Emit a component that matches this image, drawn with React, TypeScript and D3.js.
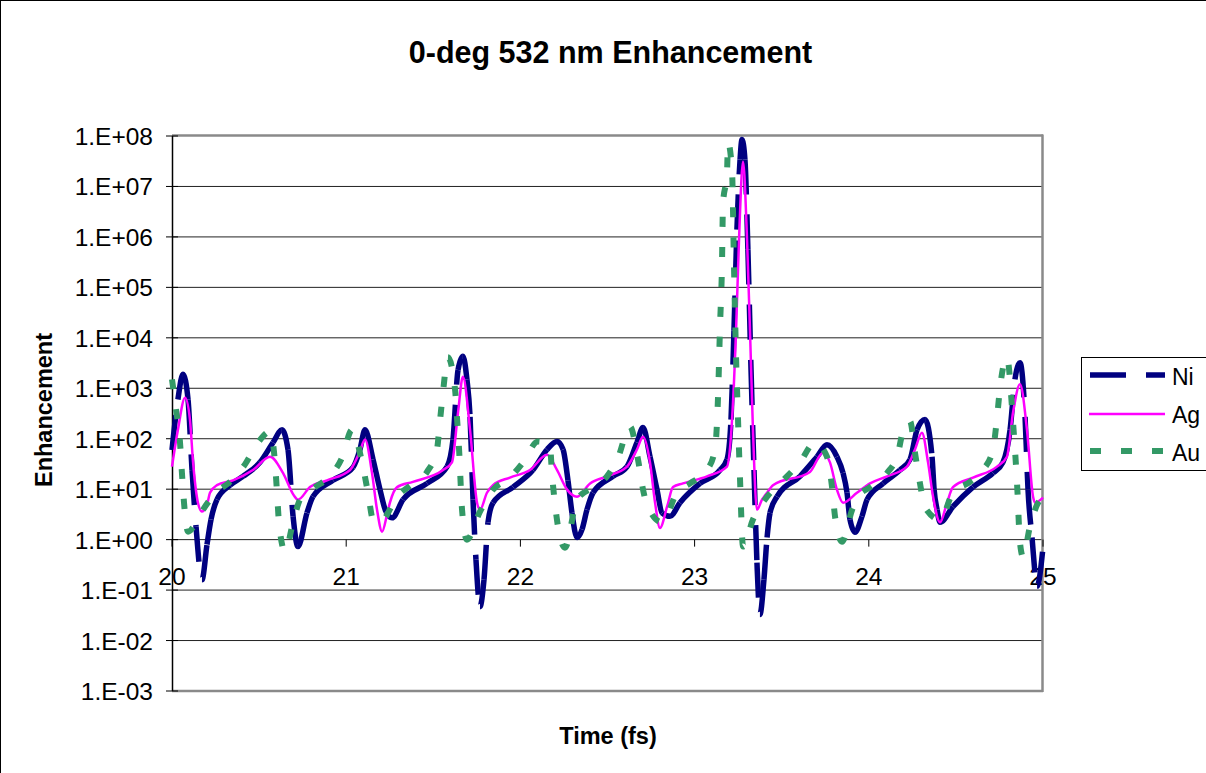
import React from 'react';
import * as d3 from 'd3';

const chartTitle = '0-deg 532 nm Enhancement';
const xAxisTitle = 'Time (fs)';
const yAxisTitle = 'Enhancement';
const seriesNames = ['Ni', 'Ag', 'Au'];
const xTicks = [20, 21, 22, 23, 24, 25];
const yTickValues = [1e-3, 1e-2, 1e-1, 1e0, 1e1, 1e2, 1e3, 1e4, 1e5, 1e6, 1e7, 1e8];
const yTickLabels = ['1.E-03', '1.E-02', '1.E-01', '1.E+00', '1.E+01', '1.E+02', '1.E+03', '1.E+04', '1.E+05', '1.E+06', '1.E+07', '1.E+08'];

const niTime = [20.000, 20.034, 20.063, 20.092, 20.115, 20.138, 20.172, 20.201, 20.224, 20.258, 20.333, 20.408, 20.505, 20.580, 20.631, 20.666, 20.695, 20.723, 20.775, 20.809, 20.924, 21.039, 21.079, 21.108, 21.154, 21.194, 21.228, 21.263, 21.326, 21.464, 21.579, 21.613, 21.642, 21.670, 21.693, 21.711, 21.728, 21.745, 21.768, 21.791, 21.814, 21.843, 21.958, 22.072, 22.153, 22.210, 22.245, 22.273, 22.296, 22.325, 22.354, 22.382, 22.417, 22.532, 22.612, 22.669, 22.704, 22.744, 22.784, 22.813, 22.859, 22.916, 23.031, 23.146, 23.186, 23.209, 23.226, 23.243, 23.261, 23.272, 23.289, 23.306, 23.324, 23.341, 23.358, 23.375, 23.398, 23.416, 23.433, 23.473, 23.605, 23.703, 23.760, 23.817, 23.852, 23.875, 23.892, 23.921, 23.961, 23.990, 24.082, 24.179, 24.237, 24.277, 24.323, 24.363, 24.375, 24.392, 24.409, 24.483, 24.598, 24.713, 24.770, 24.811, 24.839, 24.868, 24.897, 24.914, 24.937, 24.966, 25.000];
const niValue = [60, 600, 1.9e3, 600, 24, 1.8, 0.16, 0.8, 2.5, 6.2, 12, 18, 34, 84, 150, 60, 2.9, 0.73, 3.4, 7.1, 15, 27, 61, 150, 39, 9.8, 3.6, 2.7, 6.2, 13, 28, 96, 2.3e3, 4.3e3, 1.5e3, 270, 6.2, 0.4, 0.047, 0.16, 2.2, 5.4, 11, 24, 61, 88, 61, 15, 3.4, 1.1, 1.6, 3.9, 8.5, 18, 28, 84, 166, 44, 9.8, 3.4, 2.9, 5.4, 13, 24, 39, 240, 1.4e4, 1.4e6, 3.4e7, 8.5e7, 3.4e7, 5.6e5, 2.3e3, 24, 0.35, 0.033, 0.16, 1.1, 3.4, 7.1, 18, 44, 76, 44, 21, 8.5, 2.5, 1.4, 2.9, 6.2, 13, 24, 39, 150, 240, 44, 9.8, 3.9, 2.2, 4.5, 11, 21, 34, 150, 1.5e3, 3.2e3, 270, 9.8, 1.1, 0.12, 0.7];

const agTime = [20.000, 20.034, 20.075, 20.103, 20.121, 20.149, 20.172, 20.201, 20.218, 20.258, 20.350, 20.465, 20.563, 20.637, 20.700, 20.723, 20.792, 20.890, 21.022, 21.079, 21.108, 21.148, 21.177, 21.206, 21.234, 21.251, 21.292, 21.383, 21.556, 21.607, 21.642, 21.670, 21.711, 21.751, 21.768, 21.808, 21.843, 21.940, 22.055, 22.153, 22.210, 22.268, 22.325, 22.400, 22.497, 22.612, 22.669, 22.704, 22.744, 22.773, 22.801, 22.842, 22.876, 22.933, 23.071, 23.186, 23.215, 23.238, 23.255, 23.278, 23.301, 23.318, 23.335, 23.358, 23.387, 23.416, 23.450, 23.662, 23.737, 23.777, 23.817, 23.852, 23.932, 24.007, 24.105, 24.219, 24.265, 24.305, 24.340, 24.369, 24.409, 24.449, 24.483, 24.598, 24.736, 24.793, 24.828, 24.868, 24.908, 24.943, 24.954, 25.000];
const agValue = [28, 150, 650, 240, 34, 5.4, 3.6, 4.9, 8.5, 12, 15, 24, 44, 21, 7.5, 6.2, 11, 15, 24, 56, 96, 21, 3.9, 1.44, 3.1, 5.4, 11, 14, 24, 34, 330, 1.7e3, 150, 5.4, 3.9, 8.5, 12, 17, 24, 48, 24, 9.8, 7.1, 13, 18, 28, 61, 110, 34, 5.4, 1.7, 4.5, 11, 13, 18, 28, 240, 1.4e4, 8.9e5, 3.1e7, 8.9e5, 1.4e4, 150, 3.9, 6.2, 8.5, 12, 22, 53, 34, 9.8, 5.4, 8.5, 13, 18, 28, 61, 132, 34, 7.1, 2.2, 5.4, 11, 17, 28, 44, 330, 1.2e3, 150, 7.1, 5.4, 6.8];

const auTime = [20.000, 20.023, 20.046, 20.057, 20.069, 20.092, 20.132, 20.178, 20.258, 20.333, 20.419, 20.494, 20.563, 20.591, 20.603, 20.614, 20.649, 20.695, 20.735, 20.821, 20.907, 20.976, 21.033, 21.091, 21.125, 21.154, 21.194, 21.292, 21.383, 21.464, 21.521, 21.538, 21.556, 21.584, 21.625, 21.636, 21.648, 21.665, 21.693, 21.768, 21.843, 21.940, 22.015, 22.101, 22.170, 22.181, 22.199, 22.227, 22.256, 22.325, 22.417, 22.497, 22.560, 22.629, 22.675, 22.704, 22.727, 22.813, 22.899, 22.974, 23.071, 23.117, 23.134, 23.146, 23.157, 23.163, 23.186, 23.192, 23.215, 23.226, 23.238, 23.249, 23.261, 23.278, 23.335, 23.416, 23.490, 23.605, 23.691, 23.760, 23.789, 23.806, 23.846, 23.904, 23.938, 24.007, 24.105, 24.162, 24.208, 24.237, 24.265, 24.294, 24.323, 24.409, 24.483, 24.581, 24.656, 24.713, 24.736, 24.753, 24.793, 24.828, 24.851, 24.868, 24.885, 24.925, 24.966, 25.000];
const auValue = [1.5e3, 380, 84, 21, 5.4, 1.44, 2.0, 3.9, 8.9, 14, 31, 84, 138, 34, 8.5, 2.2, 0.58, 2.2, 6.2, 11, 18, 42, 150, 34, 8.5, 2.5, 2.2, 7.1, 13, 22, 61, 220, 860, 4.1e3, 940, 260, 61, 3.9, 1.0, 3.6, 9.8, 17, 34, 88, 70, 21, 4.9, 1.15, 0.69, 6.2, 11, 18, 42, 174, 39, 9.8, 4.9, 2.2, 8.5, 13, 24, 61, 600, 1.7e4, 2.6e5, 4.4e6, 1.9e7, 7.4e7, 2.0e7, 2.8e5, 4.2e3, 260, 15, 0.73, 2.5, 7.1, 13, 34, 84, 44, 11, 2.9, 0.91, 3.9, 7.1, 11, 21, 44, 190, 220, 53, 13, 4.3, 2.5, 8.5, 14, 24, 61, 260, 1.0e3, 4.1e3, 210, 13, 0.87, 0.46, 1.8, 4.9, 7.1];

const FONT = "'Liberation Sans', Arial, Helvetica, sans-serif";
const W = 1206;
const H = 773;
const plot = { left: 172, right: 1043, top: 136, bottom: 691 };

const NI_COLOR = '#000080';
const AG_COLOR = '#FF00FF';
const AU_COLOR = '#339966';

type Pt = [number, number];

function zip(t: number[], v: number[]): Pt[] {
  return t.map((tt, i) => [tt, v[i]] as Pt);
}

// split a d3 cubic path into one path per segment so the dash pattern restarts on each
function splitSegments(d: string): string[] {
  const parts = d.split('C');
  let start = parts[0].slice(1);
  const out: string[] = [];
  for (let i = 1; i < parts.length; i++) {
    const nums = parts[i].split(',');
    out.push(`M${start}C${parts[i]}`);
    start = `${nums[4]},${nums[5]}`;
  }
  return out;
}

export default function App() {
  const x = d3.scaleLinear().domain([20, 25]).range([plot.left, plot.right]);
  const y = d3.scaleLog().domain([1e-3, 1e8]).range([plot.bottom, plot.top]);
  const line = d3
    .line<Pt>()
    .x((d) => x(d[0]))
    .y((d) => y(d[1]))
    .curve(d3.curveMonotoneX);

  const niPath = line(zip(niTime, niValue)) || '';
  const niSegs = splitSegments(niPath);
  const agPath = line(zip(agTime, agValue)) || '';
  const auPath = line(zip(auTime, auValue)) || '';

  const y1 = y(1);

  return (
    <svg
      width={W}
      height={H}
      style={{ position: 'absolute', left: 0, top: 0, background: '#fff' }}
      fontFamily={FONT}
    >
      <rect x={0} y={0} width={W} height={H} fill="#fff" />
      <rect x={0.5} y={0.5} width={W + 20} height={H + 20} fill="none" stroke="#000" strokeWidth={1} />

      <text x={610.5} y={63} textAnchor="middle" fontSize={30.5} fontWeight="bold" fill="#000">
        {chartTitle}
      </text>

      {/* gridlines */}
      {yTickValues.slice(1, -1).map((v) => (
        <line key={v} x1={plot.left} x2={plot.right} y1={y(v)} y2={y(v)} stroke="#222" strokeWidth={1} />
      ))}

      {/* plot border */}
      <line x1={plot.left} x2={plot.right} y1={plot.top - 0.5} y2={plot.top - 0.5} stroke="#8a8a8a" strokeWidth={2.5} />
      <line x1={plot.right - 0.5} x2={plot.right - 0.5} y1={plot.top - 1.5} y2={plot.bottom + 1} stroke="#8a8a8a" strokeWidth={2.5} />
      <line x1={plot.left} x2={plot.right} y1={plot.bottom} y2={plot.bottom} stroke="#8a8a8a" strokeWidth={2.5} />

      {/* y axis */}
      <line x1={plot.left + 0.5} x2={plot.left + 0.5} y1={plot.top} y2={plot.bottom} stroke="#000" strokeWidth={1.5} />
      {yTickValues.map((v, i) => (
        <g key={'yt' + v}>
          <line x1={plot.left - 6} x2={plot.left + 6} y1={y(v)} y2={y(v)} stroke="#000" strokeWidth={1} />
          <text x={153} y={y(v) + 9} textAnchor="end" fontSize={24.5} fill="#000">
            {yTickLabels[i]}
          </text>
        </g>
      ))}

      {/* x axis at 1 */}
      {xTicks.map((t) => (
        <g key={'xt' + t}>
          <line x1={x(t)} x2={x(t)} y1={y1} y2={y1 + 7} stroke="#000" strokeWidth={1} />
          <text x={x(t)} y={y1 + 45} textAnchor="middle" fontSize={24.5} fill="#000">
            {t}
          </text>
        </g>
      ))}

      {/* series */}
      {niSegs.map((d, i) => (
        <path key={'ni' + i} d={d} fill="none" stroke={NI_COLOR} strokeWidth={5.5} strokeDasharray="35,20" />
      ))}
      <path d={agPath} fill="none" stroke={AG_COLOR} strokeWidth={2.5} />
      <path d={auPath} fill="none" stroke={AU_COLOR} strokeWidth={6} strokeDasharray="10,20" />

      {/* axis titles */}
      <text x={608} y={744} textAnchor="middle" fontSize={23.5} fontWeight="bold" fill="#000">
        {xAxisTitle}
      </text>
      <text transform="translate(52,410) rotate(-90)" textAnchor="middle" fontSize={23.5} fontWeight="bold" fill="#000">
        {yAxisTitle}
      </text>

      {/* legend */}
      <rect x={1081.5} y={357.5} width={140} height={113} fill="#fff" stroke="#000" strokeWidth={1} />
      <line x1={1090} x2={1165} y1={375} y2={375} stroke={NI_COLOR} strokeWidth={5.5} strokeDasharray="36,20" />
      <line x1={1089} x2={1165} y1={414} y2={414} stroke={AG_COLOR} strokeWidth={2.5} />
      <line x1={1090} x2={1165} y1={451} y2={451} stroke={AU_COLOR} strokeWidth={6} strokeDasharray="11,20" />
      {seriesNames.map((n, i) => (
        <text key={n} x={1172} y={385 + i * 38} fontSize={23} fill="#000">
          {n}
        </text>
      ))}
    </svg>
  );
}
